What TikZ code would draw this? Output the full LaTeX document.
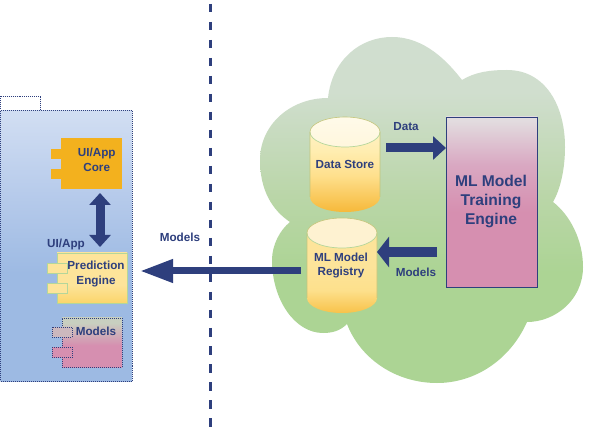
\documentclass[tikz,border=0pt]{standalone}
\usepackage{fontspec}
\setmainfont{Liberation Sans}
\usetikzlibrary{arrows.meta,calc}
\definecolor{ink}{HTML}{2E3F7D}
\definecolor{edgegreen}{HTML}{B4D69A}
\definecolor{orangebox}{HTML}{F3B11E}
\definecolor{predictcolor}{HTML}{FDE49A}
\definecolor{modelsport}{HTML}{CCB8BE}
\definecolor{modelspink}{HTML}{D68FB0}
\definecolor{ca}{HTML}{ACD494}\definecolor{cb}{HTML}{BAD6A8}\definecolor{cc}{HTML}{D0DECE}\definecolor{cd}{HTML}{D2DFD2}
\definecolor{pa}{HTML}{9DBAE3}\definecolor{pb}{HTML}{B4C9EA}\definecolor{pc}{HTML}{D0DDF2}
\definecolor{ta}{HTML}{D68FB0}\definecolor{tb}{HTML}{D9A8C2}\definecolor{tc}{HTML}{E2DCDF}
\definecolor{ea}{HTML}{FBD56B}
\definecolor{ma}{HTML}{C8CFC0}
\definecolor{sa}{HTML}{F6B93A}\definecolor{sb}{HTML}{FEDF8C}\definecolor{sc}{HTML}{FFEDB0}\definecolor{sd}{HTML}{FFF5D0}
\definecolor{ra}{HTML}{F8C24A}\definecolor{rb}{HTML}{FDE08C}
\pgfdeclareverticalshading{cloudfill}{100bp}{color(0bp)=(ca);color(41bp)=(ca);color(52bp)=(cb);color(67bp)=(cc);color(100bp)=(cd)}
\pgfdeclareverticalshading{packagefill}{100bp}{color(0bp)=(pa);color(45bp)=(pa);color(58bp)=(pb);color(74bp)=(pc);color(100bp)=(pc)}
\pgfdeclareverticalshading{trainfill}{100bp}{color(0bp)=(ta);color(47bp)=(ta);color(61bp)=(tb);color(74bp)=(tc);color(100bp)=(tc)}
\pgfdeclareverticalshading{predictfill}{100bp}{color(0bp)=(ea);color(25bp)=(ea);color(43bp)=(predictcolor);color(100bp)=(predictcolor)}
\pgfdeclareverticalshading{modelsfill}{100bp}{color(0bp)=(ta);color(47bp)=(ta);color(70bp)=(ma);color(100bp)=(ma)}
\pgfdeclareverticalshading{storefill}{100bp}{color(0bp)=(sa);color(25bp)=(sa);color(44bp)=(sb);color(57bp)=(sc);color(75bp)=(sd);color(100bp)=(sd)}
\pgfdeclareverticalshading{registryfill}{100bp}{color(0bp)=(ra);color(25bp)=(ra);color(37bp)=(rb);color(50bp)=(predictcolor);color(100bp)=(predictcolor)}
\tikzset{
  lab/.style={font=\fontsize{11.7}{14.5}\selectfont\bfseries,text=ink,inner sep=0pt,align=center},
  biglab/.style={font=\fontsize{15.6}{19}\selectfont\bfseries,text=ink,inner sep=0pt,align=center},
  box/.style={rectangle,inner sep=0pt,outer sep=0pt},
  dotedge/.style={preaction={draw=edgegreen,line width=.8pt},draw=ink,line width=.6pt,dash pattern=on 1pt off 1pt},
}
% name, centre x, top of body y, shading
\newcommand{\storecyl}[4]{%
  \shade[shading=#4] (#2-35,#3+15) arc[start angle=180,end angle=0,x radius=35pt,y radius=15pt]
    -- (#2+35,#3+80) arc[start angle=0,end angle=-180,x radius=35pt,y radius=15pt] -- cycle;
  \fill[white,fill opacity=.55] (#2,#3+15) ellipse[x radius=35pt,y radius=15pt];
  \draw[edgegreen,line width=.7pt] (#2-35,#3+15) arc[start angle=180,end angle=360,x radius=35pt,y radius=15pt];
  \draw[edgegreen!80!orange,line width=.6pt] (#2-35,#3+80) -- (#2-35,#3+15) arc[start angle=180,end angle=0,x radius=35pt,y radius=15pt] -- (#2+35,#3+80);
  \node[box,minimum width=70pt,minimum height=95pt] (#1) at (#2,#3+47.5) {};
}
\begin{document}
\begin{tikzpicture}[x=1pt,y=-1pt]
\useasboundingbox (0,0) rectangle (597,430);
\fill[white] (0,0) rectangle (597,430);

% cloud
\shade[shading=cloudfill] (328,98)
  .. controls (332,60) and (360,37) .. (392,37)
  .. controls (425,37) and (448,62) .. (462,80)
  .. controls (475,72) and (490,70) .. (507,70)
  .. controls (545,70) and (565,105) .. (565,147)
  .. controls (565,170) and (560,190) .. (553,202)
  .. controls (570,215) and (583,240) .. (583,267)
  .. controls (583,300) and (555,322) .. (527,322)
  .. controls (510,360) and (475,383) .. (437,383)
  .. controls (395,383) and (360,358) .. (347,324)
  .. controls (340,331) and (332,333) .. (323,333)
  .. controls (295,333) and (272,300) .. (272,260)
  .. controls (272,245) and (280,230) .. (290,222)
  .. controls (272,210) and (260,190) .. (260,160)
  .. controls (260,125) and (290,98) .. (328,98) -- cycle;

% divider
\coordinate (divtop) at (210,4);
\coordinate (divbot) at (210,430);
\draw[ink,line width=3pt,dash pattern=on 8.5pt off 9.5pt] (divtop) -- (divbot);

% package
\node[box,fill=white,dotedge,minimum width=40pt,minimum height=14pt,anchor=north west] (tab) at (0.5,96.5) {};
\node[box,shade,shading=packagefill,dotedge,minimum width=131.5pt,minimum height=270.5pt,anchor=north west] (package) at (0.5,110.5) {};

% UI/App Core
\node[box,fill=orangebox,minimum width=20pt,minimum height=10pt] (coreportA) at (61,154) {};
\node[box,fill=orangebox,minimum width=20pt,minimum height=10pt] (coreportB) at (61,174) {};
\node[box,fill=orangebox,minimum width=61pt,minimum height=51pt] (core) at (91.5,163.5) {};
\node[lab] (corelab) at (96.7,160) {UI/App\\Core};

% Prediction Engine
\node[box,shade,shading=predictfill,draw=edgegreen,line width=.6pt,minimum width=70pt,minimum height=50pt] (predict) at (92,278) {};
\node[box,fill=predictcolor,draw=edgegreen,line width=.6pt,minimum width=20pt,minimum height=10pt] (predportA) at (57,268) {};
\node[box,fill=predictcolor,draw=edgegreen,line width=.6pt,minimum width=20pt,minimum height=10pt] (predportB) at (57,288) {};
\node[lab] (predlab) at (96,274) {Prediction\\Engine};

% Models component
\node[box,shade,shading=modelsfill,dotedge,minimum width=60pt,minimum height=49pt] (models) at (92,342.5) {};
\node[box,fill=modelsport,dotedge,minimum width=20pt,minimum height=10pt] (modportA) at (62,332) {};
\node[box,fill=modelspink,dotedge,minimum width=20pt,minimum height=10.5pt] (modportB) at (62,352.5) {};
\node[lab] (modlab) at (96,331) {Models};

\node[lab] (uiapplab) at (66,244) {UI/App};

% stores
\storecyl{datastore}{345}{117}{storefill}
\storecyl{registry}{342}{218}{registryfill}
\node[lab] (storelab) at (345,164) {Data Store};
\node[lab] (reglab) at (341,265.5) {ML Model\\Registry};

% training engine
\node[box,shade,shading=trainfill,draw=ink,line width=.8pt,minimum width=91pt,minimum height=170pt] (train) at (491.5,202) {};
\node[biglab] (trainlab) at (491,201.5) {ML Model\\Training\\Engine};

% connectors
\draw[ink,line width=9pt,-{Triangle[length=13pt,width=23pt]},shorten <=6pt]
  ([yshift=16.5pt]datastore.east) -- ([yshift=54pt]train.west);
\draw[ink,line width=10pt,-{Triangle[length=12pt,width=30pt]},shorten <=9pt]
  ([yshift=-50pt]train.west) -- ([yshift=13.5pt]registry.east);
\draw[ink,line width=7pt,-{Triangle[length=33pt,width=22pt]},shorten <=6pt,shorten >=8pt]
  ([yshift=-5.5pt]registry.west) -- ([yshift=7pt]predict.east -| package.east);
\draw[ink,line width=9pt,{Triangle[length=12pt,width=21pt]}-{Triangle[length=12pt,width=21pt]},shorten <=4pt,shorten >=6pt]
  ([xshift=8.5pt]core.south) -- ([xshift=8pt]predict.north);

% labels
\node[lab] (datalab) at (406,127) {Data};
\node[lab] (modelsR) at (416,272) {Models};
\node[lab] (modelsL) at (180,237) {Models};
\end{tikzpicture}
\end{document}
